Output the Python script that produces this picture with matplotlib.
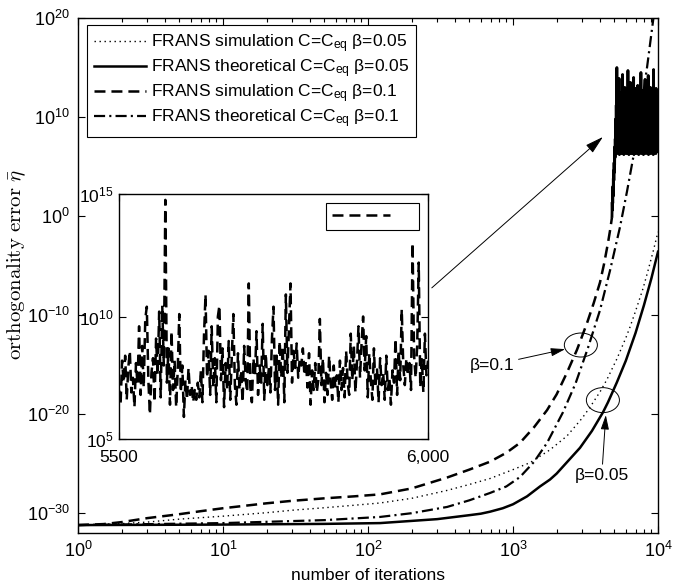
import numpy as np
import matplotlib.pyplot as plt
from matplotlib.patches import Ellipse
from matplotlib.ticker import LogLocator, NullLocator, NullFormatter

plt.rcParams['font.family'] = ['Liberation Sans', 'DejaVu Sans']
plt.rcParams['mathtext.fontset'] = 'custom'
plt.rcParams['mathtext.rm'] = 'Liberation Sans'
plt.rcParams['mathtext.it'] = 'Liberation Sans:italic'
plt.rcParams['lines.scale_dashes'] = False
plt.rcParams['font.size'] = 12.5

# ---- data: iteration index and log10 of the orthogonality error ----
# FRANS simulation, beta = 0.05
sim005_x = [1, 2, 3, 5, 10, 20, 30, 50, 80, 121, 200, 351, 500, 694, 1000, 1310, 1800,
            2357, 3000, 3396, 4000, 4446, 5212, 6000, 6412, 7000, 7889, 8500, 9247, 10000]
sim005_log = [-31.2, -31.05, -30.9, -30.6, -30.3, -29.95, -29.7, -29.45, -29.2, -28.97,
              -28.5, -27.7, -27.1, -26.5, -25.6, -24.9, -23.6, -22.2, -20.4, -19.3, -17.7,
              -16.5, -14.4, -12.3, -11.2, -9.6, -7.3, -5.6, -3.6, -1.6]

# FRANS theoretical, beta = 0.05
theo005_x = [1, 10, 50, 121, 300, 500, 600, 694, 850, 1000, 1250, 1535, 1800, 2000, 2897,
             3500, 4178, 4519, 5200, 6000, 7000, 8000, 9000, 10000]
theo005_log = [-31.2, -31.15, -31.08, -31.0, -30.6, -30.2, -30.05, -29.85, -29.5, -29.1,
               -28.3, -27.3, -26.6, -26.0, -23.4, -21.7, -19.8, -18.8, -16.8, -14.6, -11.8,
               -9.0, -6.3, -3.6]

# FRANS simulation, beta = 0.1 (smooth part)
sim01_x = [1, 1.5, 2, 3, 5, 7, 10, 20, 30, 50, 80, 121, 200, 351, 500, 694, 900, 1117,
           1400, 1716, 2000, 2357, 2762, 3240, 3600, 3981, 4250, 4520, 4700, 4816]
sim01_log = [-31.2, -31.1, -30.9, -30.5, -30.1, -29.8, -29.5, -29.0, -28.75, -28.5, -28.3,
             -28.1, -27.5, -26.4, -25.6, -24.8, -23.9, -22.9, -21.3, -19.6, -18.0, -15.8,
             -13.5, -10.8, -8.8, -6.7, -4.8, -2.7, -1.2, -0.1]

# FRANS simulation, beta = 0.1: blow-up from 4816 to 5100
ramp_end = 5100
ramp_log = [0.0, 1.4, 0.6, 2.2, 1.3, 3.0, 2.0, 3.8, 2.8, 4.6, 3.6, 5.4, 4.4, 6.2, 5.2,
            7.0, 5.9, 7.8, 6.3, 8.5]

# FRANS simulation, beta = 0.1: noisy part, 5100 .. 10000
noise_log = [
    9.8, 6.4, 11.2, 7.0, 15.0, 6.3, 10.5, 8.2, 6.6, 11.4, 7.4, 13.9, 6.2, 10.9, 8.8, 6.5,
    11.3, 7.1, 12.5, 6.3, 10.7, 8.0, 14.3, 6.4, 11.0, 7.6, 6.2, 11.4, 8.5, 13.0, 6.5, 10.4,
    7.3, 11.2, 6.3, 12.8, 7.9, 10.9, 6.6, 14.7, 7.2, 11.3, 6.2, 10.1, 8.4, 11.4, 6.5, 13.5,
    7.0, 10.8, 6.3, 11.2, 8.1, 12.4, 6.4, 10.6, 7.5, 14.0, 6.2, 11.1, 8.6, 6.5, 11.4, 7.3,
    12.9, 6.3, 10.5, 7.8, 11.3, 6.6, 13.2, 7.1, 10.9, 6.2, 11.4, 8.3, 12.1, 6.4, 10.7, 7.4,
    14.5, 6.3, 11.0, 8.0, 6.5, 11.3, 7.2, 12.7, 6.2, 10.4, 7.7, 11.4, 6.4, 13.8, 7.0, 10.8,
    6.3, 11.2, 8.5, 12.2, 6.5, 10.6, 7.3, 14.2, 6.2, 11.1, 7.9, 6.4, 11.4, 7.5, 13.0, 6.3,
    10.9, 8.2, 11.2, 6.6, 12.5, 7.1, 10.7, 6.2, 14.8, 7.6, 11.3, 6.4, 10.5, 8.0, 11.4, 6.3,
    12.9, 7.4, 10.8, 6.5, 11.0, 7.8, 12.0]

# FRANS theoretical, beta = 0.1
theo01_x = [1, 10, 50, 121, 200, 351, 500, 694, 900, 1117, 1400, 1716, 2213, 2700, 3290,
            3981, 4667, 5470, 6115, 6725, 7500, 8400, 9300, 10000]
theo01_log = [-31.2, -31.0, -30.7, -30.38, -30.0, -29.37, -28.7, -27.96, -27.3, -26.35,
              -24.8, -22.91, -19.8, -16.9, -13.3, -9.5, -5.5, -1.1, 2.5, 5.8, 10.0, 15.0,
              20.0, 23.8]

# zoomed window 5500 .. 6000 of the beta = 0.1 simulation
inset_log = [
    7.0, 6.4, 8.2, 7.3, 8.4, 6.6, 7.9, 8.6, 6.9, 7.5,
    6.3, 8.1, 7.2, 9.6, 6.8, 8.8, 7.1, 9.9, 10.4, 7.4,
    6.0, 7.7, 8.3, 6.5, 9.1, 7.6, 10.2, 6.7, 10.45, 8.0,
    14.76, 7.3, 8.7, 6.4, 9.4, 7.0, 8.2, 6.3, 7.8, 10.1,
    6.9, 8.0, 5.9, 7.4, 6.6, 7.9, 6.8, 7.2, 6.5, 7.0,
    6.6, 7.3, 6.7, 7.8, 6.5, 9.2, 10.9, 7.5, 8.6, 6.8,
    9.6, 7.1, 8.3, 6.5, 10.0, 10.45, 7.4, 8.7, 6.3, 8.1,
    7.0, 9.0, 6.6, 8.4, 10.1, 7.2, 6.4, 8.5, 7.0, 7.8,
    6.5, 8.8, 7.4, 6.9, 11.35, 7.1, 6.5, 8.3, 7.6, 9.4,
    6.8, 8.0, 7.3, 9.7, 6.6, 8.5, 7.2, 7.9, 6.9, 9.1,
    10.4, 7.0, 8.4, 6.4, 9.0, 7.5, 8.8, 6.5, 10.9, 7.7,
    9.5, 11.35, 7.3, 8.6, 7.9, 8.9, 7.5, 8.3, 8.0, 8.7,
    7.6, 8.2, 7.1, 8.5, 6.4, 7.8, 7.0, 8.1, 6.9, 7.4,
    9.9, 7.2, 8.3, 6.5, 7.7, 6.8, 8.4, 7.3, 6.6, 8.0,
    7.1, 7.6, 6.5, 8.2, 7.0, 7.9, 6.7, 8.6, 7.3, 6.8,
    9.3, 7.4, 8.8, 6.9, 8.1, 9.6, 7.5, 8.9, 10.0, 7.8,
    9.2, 6.7, 8.5, 7.4, 6.6, 8.7, 7.1, 7.9, 6.5, 8.3,
    7.2, 7.7, 6.6, 8.4, 7.0, 7.5, 6.4, 7.8, 7.3, 9.1,
    6.8, 8.6, 7.4, 10.3, 8.0, 7.2, 8.3, 7.6, 8.1, 7.0,
    13.0, 8.4, 7.5, 8.8, 12.2, 7.1, 8.3, 6.9, 9.3, 7.6,
    8.2]

labels = [r'FRANS simulation C=C$_\mathregular{eq}$ β=0.05',
          r'FRANS theoretical C=C$_\mathregular{eq}$ β=0.05',
          r'FRANS simulation C=C$_\mathregular{eq}$ β=0.1',
          r'FRANS theoretical C=C$_\mathregular{eq}$ β=0.1']

dash = (0, (7.9, 4.3))
dashdot = (0, (8, 3, 1.5, 3))
dots = (0, (1, 2.6))

fig = plt.figure(figsize=(6.73, 5.86), dpi=100)
ax = fig.add_axes([78 / 673, 53 / 586, 580 / 673, 515 / 586])

ax.plot(sim005_x, np.power(10.0, sim005_log), color='k', lw=1.0, ls=dots, label=labels[0])
ax.plot(theo005_x, np.power(10.0, theo005_log), color='k', lw=1.8, ls='-', label=labels[1])
ax.plot(sim01_x, np.power(10.0, sim01_log), color='k', lw=1.8, ls=dash, label=labels[2])
ax.plot(theo01_x, np.power(10.0, theo01_log), color='k', lw=1.6, ls=dashdot, label=labels[3])
ramp_x = np.geomspace(sim01_x[-1], ramp_end, len(ramp_log))
noise_x = np.geomspace(ramp_end, 10000, len(noise_log))
ax.plot(np.concatenate([ramp_x, noise_x]),
        np.power(10.0, np.concatenate([ramp_log, noise_log])), color='k', lw=2.0, ls='-')

ax.set_xscale('log')
ax.set_yscale('log')
ax.set_xlim(1, 1e4)
ax.set_ylim(1e-32, 1e20)
ax.set_yticks([1e-30, 1e-20, 1e-10, 1e0, 1e10, 1e20])
ax.yaxis.set_minor_locator(NullLocator())
ax.xaxis.set_minor_locator(LogLocator(base=10, subs=range(2, 10)))
ax.xaxis.set_minor_formatter(NullFormatter())
ax.tick_params(which='both', direction='in', top=True, right=True, width=0.8)
ax.tick_params(which='major', length=5, pad=6, labelsize=13)
ax.tick_params(which='minor', length=3)
for sp in ax.spines.values():
    sp.set_linewidth(1.0)

ax.set_xlabel('number of iterations', labelpad=5)
ax.set_ylabel(r'$\mathrm{orthogonality\ error}\ \bar{\eta}$', math_fontfamily='cm', fontsize=15)
ax.yaxis.set_label_coords(-0.086, 0.522)

leg = ax.legend(loc='upper left', bbox_to_anchor=(9 / 580, 1 - 7 / 515), borderaxespad=0,
                fancybox=False, edgecolor='k', framealpha=1, handlelength=3.0,
                handletextpad=0.3, labelspacing=0.15, borderpad=0.4)
leg.get_frame().set_linewidth(0.8)

# circles around the two curve pairs and their labels
ax.add_patch(Ellipse((0.867, 0.365), 0.057, 0.0466, transform=ax.transAxes,
                     fill=False, lw=0.7, color='k'))
ax.add_patch(Ellipse((0.905, 0.258), 0.057, 0.0485, transform=ax.transAxes,
                     fill=False, lw=0.7, color='k'))
arrow = dict(arrowstyle='-|>,head_length=0.7,head_width=0.2', color='k', lw=0.7,
             shrinkA=1, shrinkB=0)
ax.annotate('β=0.1', xy=(0.840, 0.357), xytext=(0.714, 0.326), xycoords='axes fraction',
            ha='center', va='center', arrowprops=arrow)
ax.annotate('β=0.05', xy=(0.910, 0.229), xytext=(0.903, 0.111), xycoords='axes fraction',
            ha='center', va='center', arrowprops=arrow)
ax.annotate('', xy=(0.905, 0.769), xytext=(0.610, 0.476), xycoords='axes fraction',
            arrowprops=dict(arrowstyle='-|>,head_length=0.9,head_width=0.25', color='k',
                            lw=0.7, shrinkA=0, shrinkB=0))

# zoomed view of the noisy region
axi = fig.add_axes([119 / 673, 147 / 586, 309 / 673, 245 / 586])
inset_x = np.linspace(5500, 6000, len(inset_log))
axi.plot(inset_x, np.power(10.0, inset_log), color='k', lw=1.8, ls=dash, label='   ')
axi.set_yscale('log')
axi.set_xlim(5500, 6000)
axi.set_ylim(1e5, 1e15)
axi.set_xticks([5500, 6000])
axi.set_xticklabels(['5500', '6,000'])
axi.set_yticks([1e5, 1e10, 1e15])
axi.yaxis.set_minor_locator(NullLocator())
axi.tick_params(which='both', direction='in', top=True, right=True, length=5, width=0.8)
axi.tick_params(axis='x', pad=8)
axi.tick_params(axis='y', pad=4)
for sp in axi.spines.values():
    sp.set_linewidth(1.0)
ileg = axi.legend(loc='upper right', bbox_to_anchor=(0.971, 0.963), borderaxespad=0,
                  fancybox=False, edgecolor='k', framealpha=1, handlelength=3.3,
                  handletextpad=0.5, borderpad=0.35)
ileg.get_frame().set_linewidth(0.8)

fig.savefig('out.png', dpi=100)
